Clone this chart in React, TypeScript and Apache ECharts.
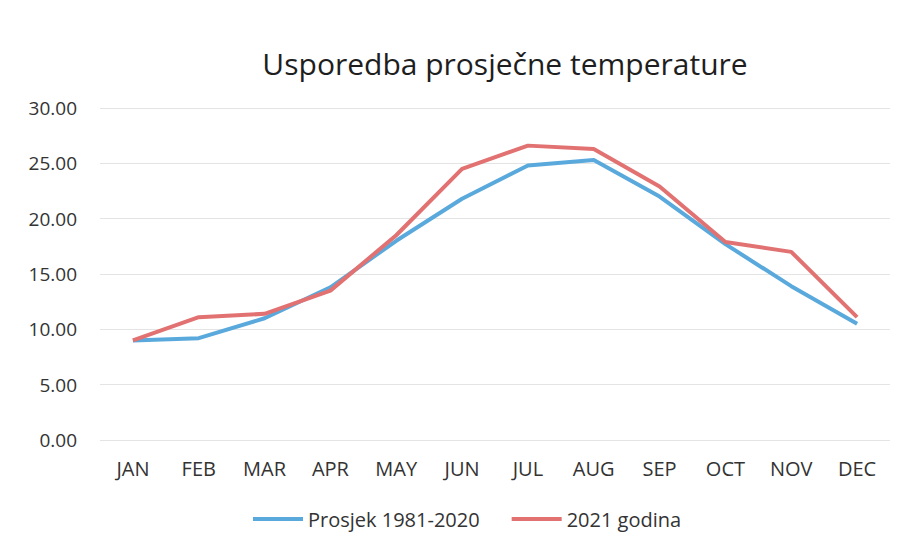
import React, { useEffect, useRef } from "react";
import * as echarts from "echarts";

const months = ["JAN", "FEB", "MAR", "APR", "MAY", "JUN", "JUL", "AUG", "SEP", "OCT", "NOV", "DEC"];
const avg1981_2020 = [9.0, 9.2, 11.0, 13.8, 18.0, 21.8, 24.8, 25.3, 22.0, 17.7, 13.9, 10.5];
const year2021 = [9.0, 11.1, 11.4, 13.5, 18.5, 24.5, 26.6, 26.3, 22.9, 17.9, 17.0, 11.1];
const seriesNames = ["Prosjek 1981-2020", "2021 godina"];
const titleText = "Usporedba prosječne temperature";

export default function App() {
  const ref = useRef<HTMLDivElement>(null);
  useEffect(() => {
    document.body.style.margin = "0";
    if (!ref.current) return;
    const chart = echarts.init(ref.current, null, { renderer: "svg" });
    const font = "'Open Sans', sans-serif";
    chart.setOption({
      animation: false,
      backgroundColor: "#ffffff",
      title: {
        text: titleText,
        left: 500,
        textAlign: "center",
        top: 43,
        textStyle: { fontFamily: font, fontSize: 30, fontWeight: "normal", color: "#1e1e1e" },
      },
      legend: {
        top: 504,
        left: 248,
        itemWidth: 50,
        itemHeight: 4,
        itemGap: 32,
        icon: "rect",
        textStyle: { fontFamily: font, fontSize: 20, color: "#333" },
        data: seriesNames,
      },
      grid: { left: 100, right: 11, top: 108, bottom: 108 },
      xAxis: {
        type: "category",
        data: months,
        boundaryGap: true,
        axisLine: { show: false },
        axisTick: { show: false },
        axisLabel: { fontFamily: font, fontSize: 20, color: "#333", margin: 18 },
      },
      yAxis: {
        type: "value",
        min: 0,
        max: 30,
        interval: 5,
        axisLine: { show: false },
        axisTick: { show: false },
        axisLabel: {
          fontFamily: font,
          fontSize: 19,
          color: "#333",
          margin: 23,
          formatter: (v: number) => v.toFixed(2),
        },
        splitLine: { lineStyle: { color: "#e4e4e4", width: 1 } },
      },
      series: [
        {
          name: seriesNames[0],
          type: "line",
          data: avg1981_2020,
          symbol: "none",
          lineStyle: { color: "#5aa9dc", width: 4 },
          itemStyle: { color: "#5aa9dc" },
          z: 2,
        },
        {
          name: seriesNames[1],
          type: "line",
          data: year2021,
          symbol: "none",
          lineStyle: { color: "#e27272", width: 4 },
          itemStyle: { color: "#e27272" },
          z: 3,
        },
      ],
    });
    return () => chart.dispose();
  }, []);
  return <div ref={ref} style={{ width: 901, height: 548 }} />;
}
